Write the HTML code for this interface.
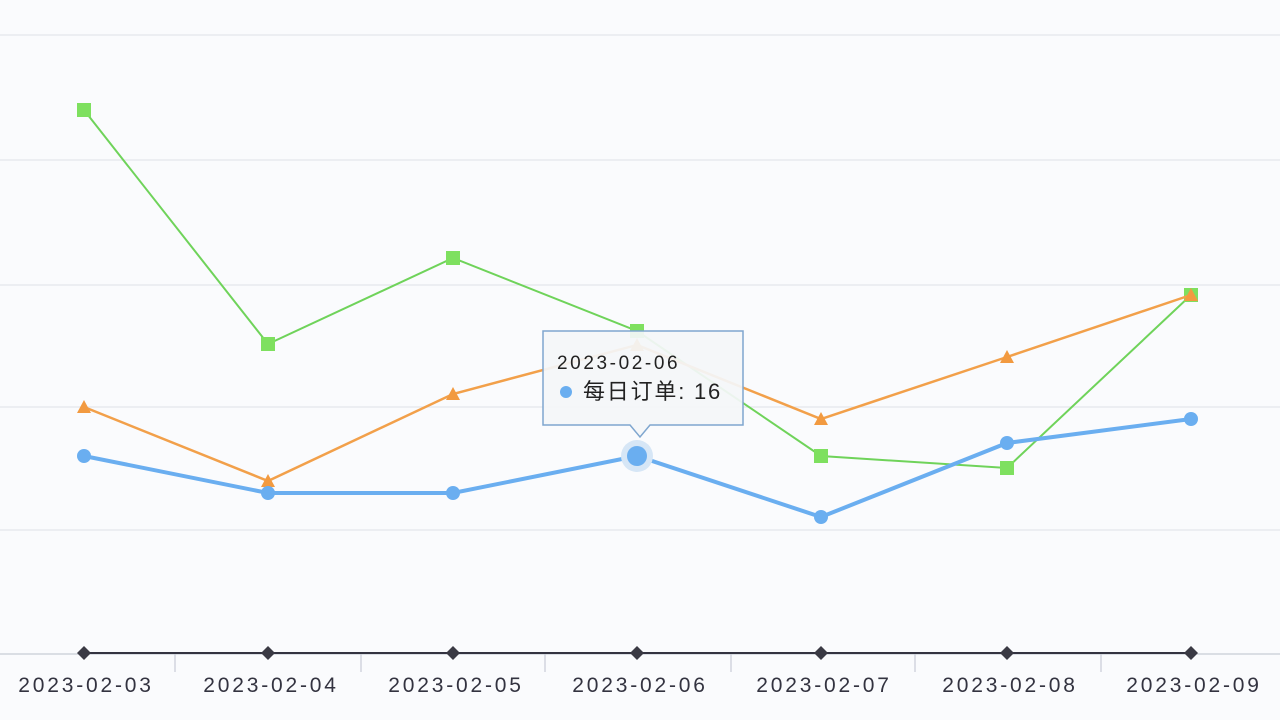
<!DOCTYPE html>
<html><head><meta charset="utf-8"><style>
body{margin:0;background:#fafbfd;}
svg{display:block;font-family:"Liberation Sans","Noto Sans CJK SC",sans-serif;}
</style></head><body>
<svg width="1280" height="720" viewBox="0 0 1280 720">
<rect width="1280" height="720" fill="#fafbfd"/>
<g stroke="#e3e6ec" stroke-width="1.2">
<line x1="0" y1="35" x2="1280" y2="35"/>
<line x1="0" y1="160" x2="1280" y2="160"/>
<line x1="0" y1="285" x2="1280" y2="285"/>
<line x1="0" y1="407" x2="1280" y2="407"/>
<line x1="0" y1="530" x2="1280" y2="530"/>
</g>
<line x1="0" y1="654" x2="1280" y2="654" stroke="#c8ccd6" stroke-width="1.2"/>
<g stroke="#c8ccd6" stroke-width="1.2">
<line x1="175" y1="654" x2="175" y2="672"/><line x1="361" y1="654" x2="361" y2="672"/>
<line x1="545" y1="654" x2="545" y2="672"/><line x1="731" y1="654" x2="731" y2="672"/>
<line x1="915" y1="654" x2="915" y2="672"/><line x1="1101" y1="654" x2="1101" y2="672"/>
</g>
<line x1="84" y1="653" x2="1191" y2="653" stroke="#333340" stroke-width="2"/>
<g fill="#3a3a44">
<polygon points="84,646 91,653 84,660 77,653"/><polygon points="268,646 275,653 268,660 261,653"/>
<polygon points="453,646 460,653 453,660 446,653"/><polygon points="637,646 644,653 637,660 630,653"/>
<polygon points="821,646 828,653 821,660 814,653"/><polygon points="1007,646 1014,653 1007,660 1000,653"/>
<polygon points="1191,646 1198,653 1191,660 1184,653"/>
</g>
<g font-size="21" fill="#333340" text-anchor="middle" letter-spacing="2.8">
<text x="86" y="692">2023-02-03</text><text x="271" y="692">2023-02-04</text>
<text x="456" y="692">2023-02-05</text><text x="640" y="692">2023-02-06</text>
<text x="824" y="692">2023-02-07</text><text x="1010" y="692">2023-02-08</text>
<text x="1194" y="692">2023-02-09</text>
</g>
<polyline points="84,110 268,344 453,258 637,331 821,456 1007,468 1191,295" fill="none" stroke="#6fd35a" stroke-width="2"/>
<g fill="#7ee05f">
<rect x="77" y="103" width="14" height="14"/><rect x="261" y="337" width="14" height="14"/>
<rect x="446" y="251" width="14" height="14"/><rect x="630" y="324" width="14" height="14"/>
<rect x="814" y="449" width="14" height="14"/><rect x="1000" y="461" width="14" height="14"/>
<rect x="1184" y="288" width="14" height="14"/>
</g>
<polyline points="84,407 268,481 453,394 637,345 821,419 1007,357 1191,295" fill="none" stroke="#f2a04a" stroke-width="2.5"/>
<g fill="#f29a40">
<polygon points="84,400 91,413 77,413"/><polygon points="268,474 275,487 261,487"/>
<polygon points="453,387 460,400 446,400"/><polygon points="637,338 644,351 630,351"/>
<polygon points="821,412 828,425 814,425"/><polygon points="1007,350 1014,363 1000,363"/>
<polygon points="1191,288 1198,301 1184,301"/>
</g>
<polyline points="84,456 268,493 453,493 637,456 821,517 1007,443 1191,419" fill="none" stroke="#6aaef0" stroke-width="4"/>
<g fill="#6aaef0">
<circle cx="84" cy="456" r="7"/><circle cx="268" cy="493" r="7"/><circle cx="453" cy="493" r="7"/>
<circle cx="637" cy="456" r="16" fill="#d6e6f6"/><circle cx="637" cy="456" r="10"/>
<circle cx="821" cy="517" r="7"/><circle cx="1007" cy="443" r="7"/><circle cx="1191" cy="419" r="7"/>
</g>
<path d="M543,331 H743 V425 H650 L640,437 L630,425 H543 Z" fill="#f4f6f9" fill-opacity="0.93" stroke="#7fa6cf" stroke-width="1.5"/>
<text x="557" y="369" font-size="19" fill="#222" letter-spacing="2.6">2023-02-06</text>
<circle cx="566" cy="392" r="6" fill="#6aaef0"/>
<text x="583" y="399" font-size="22" fill="#222" letter-spacing="1.8">每日订单: 16</text>
</svg>
</body></html>
